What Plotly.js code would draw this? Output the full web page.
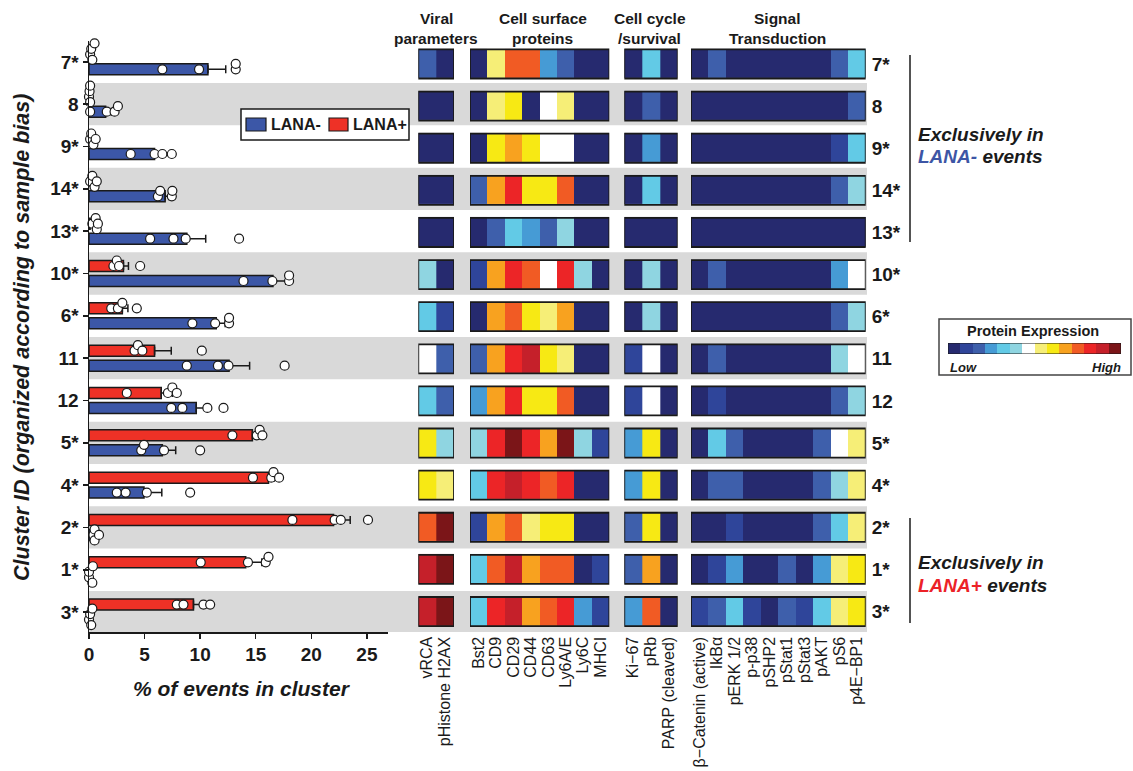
<!DOCTYPE html>
<html>
<head>
<meta charset="utf-8">
<script src="https://cdn.plot.ly/plotly-3.0.1.min.js"></script>
<style>
  html, body { margin: 0; padding: 0; background: #fff; }
  #chart { width: 1133px; height: 771px; }
</style>
</head>
<body>
<div id="chart"></div>
<script>
// ---- Clusters (top to bottom) ----
const clusters = ['7*', '8', '9*', '14*', '13*', '10*', '6*', '11', '12', '5*', '4*', '2*', '1*', '3*'];
const groups = ['LANA-', 'LANA+'];

// ---- % of events in cluster: means, SEM and replicate values ----
const lanaNegMean = [10.7, 1.5, 5.9, 6.85, 8.8, 16.55, 11.45, 12.6, 9.65, 6.6, 4.95, 0.2, 0, 0];
const lanaNegErr  = [1.6, 0.5, 0.8, 0.35, 1.7, 1.15, 0.8, 1.85, 1.15, 1.2, 1.6, 0, 0, 0];
const lanaPosMean = [0, 0, 0, 0, 0.1, 3.1, 3.0, 5.9, 6.5, 14.7, 16.15, 22.0, 14.1, 9.4];
const lanaPosErr  = [0, 0, 0, 0, 0, 0.45, 0.5, 1.5, 1.0, 0.6, 0.5, 1.5, 1.45, 0.7];

const lanaNegPts = [
  [6.6, 9.9, 13.2, 13.2],
  [0.1, 1.6, 2.3, 2.6],
  [3.75, 5.9, 6.6, 7.45],
  [6.2, 6.4, 7.45, 7.5],
  [5.5, 7.6, 8.7, 13.5],
  [13.9, 16.5, 18.0, 18.0],
  [9.3, 11.35, 12.6, 12.6],
  [8.8, 11.6, 12.55, 17.6],
  [7.4, 8.4, 10.65, 12.1],
  [4.7, 4.95, 6.75, 10.0],
  [2.5, 3.3, 5.2, 9.1],
  [0.4, 0.5, 0.5, 0.9],
  [0.0, 0.0, 0.3, 0.35],
  [0.0, 0.1, 0.2, 0.3]
];
const lanaPosPts = [
  [0.1, 0.2, 0.3, 0.5],
  [0.0, 0.05, 0.1, 0.1],
  [0.1, 0.2, 0.4, 0.6],
  [0.1, 0.3, 0.5, 0.7],
  [0.3, 0.6, 0.7, 0.8],
  [2.2, 2.5, 2.7, 4.6],
  [2.0, 2.6, 3.0, 4.3],
  [4.1, 4.4, 4.8, 10.15],
  [3.4, 7.1, 7.5, 7.9],
  [12.9, 15.1, 15.35, 15.6],
  [14.75, 16.4, 16.6, 17.1],
  [18.3, 22.1, 22.65, 25.1],
  [10.05, 14.3, 15.9, 16.15],
  [7.9, 8.5, 10.3, 10.9]
];

// ---- Protein expression levels (0 = low ... 13 = high) ----
const viralLabels = ['vRCA', 'pHistone H2AX'];
const viralLevels = [
  [2, 0], [0, 0], [0, 0], [0, 0], [0, 0], [5, 0], [4, 1],
  [6, 2], [4, 2], [8, 5], [8, 7], [10, 13], [12, 13], [12, 13]
];
const surfaceLabels = ['Bst2', 'CD9', 'CD29', 'CD44', 'CD63', 'Ly6A/E', 'Ly6C', 'MHCI'];
const surfaceLevels = [
  [0, 7, 10, 10, 3, 2, 0, 0],
  [0, 7, 8, 0, 6, 7, 0, 0],
  [0, 8, 9, 8, 6, 6, 0, 0],
  [2, 9, 11, 8, 8, 10, 0, 0],
  [0, 2, 4, 3, 2, 5, 0, 0],
  [1, 9, 11, 10, 6, 11, 5, 0],
  [0, 9, 10, 8, 7, 9, 0, 0],
  [2, 9, 11, 12, 8, 7, 0, 0],
  [3, 9, 11, 8, 8, 10, 0, 0],
  [5, 11, 13, 11, 9, 13, 5, 1],
  [4, 11, 12, 11, 10, 11, 0, 0],
  [1, 9, 10, 7, 8, 8, 0, 0],
  [4, 10, 12, 9, 10, 10, 0, 1],
  [4, 11, 12, 9, 10, 11, 3, 1]
];
const cycleLabels = ['Ki\u221267', 'pRb', 'PARP (cleaved)'];
const cycleLevels = [
  [0, 4, 0], [0, 2, 0], [0, 3, 0], [0, 4, 0], [0, 0, 0], [0, 5, 0], [0, 5, 0],
  [1, 6, 0], [1, 6, 0], [3, 8, 0], [3, 8, 0], [2, 8, 0], [2, 9, 0], [3, 10, 0]
];
const signalLabels = ['\u03b2\u2212Catenin (active)', 'IkB\u03b1', 'pERK 1/2', 'p-p38', 'pSHP2',
                      'pStat1', 'pStat3', 'pAKT', 'pS6', 'p4E\u2212BP1'];
const signalLevels = [
  [0, 2, 0, 0, 0, 0, 0, 0, 2, 4],
  [0, 0, 0, 0, 0, 0, 0, 0, 0, 2],
  [0, 0, 0, 0, 0, 0, 0, 0, 1, 4],
  [0, 0, 0, 0, 0, 0, 0, 0, 2, 5],
  [0, 0, 0, 0, 0, 0, 0, 0, 0, 0],
  [0, 2, 0, 0, 0, 0, 0, 0, 3, 6],
  [0, 0, 0, 0, 0, 0, 0, 0, 2, 5],
  [0, 2, 0, 0, 0, 0, 0, 0, 5, 6],
  [0, 1, 0, 0, 0, 0, 0, 0, 2, 5],
  [0, 4, 2, 0, 0, 0, 0, 2, 6, 7],
  [0, 2, 2, 0, 0, 0, 0, 2, 5, 7],
  [0, 0, 1, 0, 0, 0, 0, 2, 4, 7],
  [0, 1, 3, 0, 0, 2, 0, 3, 7, 8],
  [1, 2, 4, 1, 0, 2, 1, 4, 7, 8]
];
const levelScale = [0, 1, 2, 3, 4, 5, 6, 7, 8, 9, 10, 11, 12, 13];

// ---- Styling ----
const W = 1133, H = 771;
const FONT = 'Liberation Sans, Arial, Helvetica, sans-serif';
const INK = '#1a1a1a';
const BLUE = '#3c57a7';
const RED = '#ee3126';
const BAND = '#d9d9d9';
const levelColors = ['#262a6f', '#2f459a', '#3e5fab', '#469bd5', '#62cae6', '#8fd5e1', '#ffffff',
                     '#f6ee77', '#f7e914', '#f8a21f', '#f15b24', '#ec2527', '#c5202a', '#7b1518'];
const colorscale = [];
levelColors.forEach((c, k) => {
  colorscale.push([k / levelColors.length, c]);
  colorscale.push([(k + 1) / levelColors.length, c]);
});

const px = x => x / W;
const py = y => 1 - y / H;

// Bar chart frame (pixels)
const BAR_L = 89, BAR_R = 388, BAR_T = 40.7, BAR_B = 632;
const X_MAX = 26.9, Y_LO = -0.5, Y_HI = 13.47;
const SX = (BAR_R - BAR_L) / X_MAX;
const SY = (BAR_B - BAR_T) / (Y_HI - Y_LO);

// Heatmap frame (pixels)
const HM_T = 42.9, HM_B = 632.6;
const BOX_HALF = 0.345;
const panels = [
  { ax: 'x2', l: 418.3, r: 454.0, labels: viralLabels, z: viralLevels },
  { ax: 'x3', l: 470.0, r: 609.3, labels: surfaceLabels, z: surfaceLevels },
  { ax: 'x4', l: 624.3, r: 677.7, labels: cycleLabels, z: cycleLevels },
  { ax: 'x5', l: 691.0, r: 865.7, labels: signalLabels, z: signalLevels }
];

// Spread replicate dots vertically where they would overlap
function swarm(vals, center) {
  const placed = [];
  const steps = [0, -1, 1, -2, 2, -3, 3];
  return vals.map(v => {
    for (const s of steps) {
      const off = s * 0.13;
      const free = placed.every(p => Math.hypot((v - p.v) * SX, (off - p.off) * SY) >= 5.5);
      if (free) { placed.push({ v, off }); return center + off; }
    }
    return center;
  });
}

const rows = clusters.map((_, i) => i);
const NEG_C = 0.177, POS_C = -0.177, BAR_W = 0.26;
const errOrNaN = a => a.map(e => (e > 0 ? e : NaN));

const traces = [];
traces.push({
  type: 'bar', orientation: 'h', name: groups[0], showlegend: false,
  x: lanaNegMean, y: rows, offset: NEG_C - BAR_W / 2, width: BAR_W,
  marker: { color: BLUE, line: { color: INK, width: 1.5 } },
  error_x: { type: 'data', symmetric: false, array: errOrNaN(lanaNegErr),
             arrayminus: lanaNegErr.map(() => 0), color: INK, thickness: 1.5, width: 4 },
  xaxis: 'x', yaxis: 'y', hoverinfo: 'skip'
});
traces.push({
  type: 'bar', orientation: 'h', name: groups[1], showlegend: false,
  x: lanaPosMean, y: rows, offset: POS_C - BAR_W / 2, width: BAR_W,
  marker: { color: RED, line: { color: INK, width: 1.5 } },
  error_x: { type: 'data', symmetric: false, array: errOrNaN(lanaPosErr),
             arrayminus: lanaPosErr.map(() => 0), color: INK, thickness: 1.5, width: 4 },
  xaxis: 'x', yaxis: 'y', hoverinfo: 'skip'
});

function dotTrace(pts, c) {
  const xs = [], ys = [];
  pts.forEach((vals, i) => {
    const yy = swarm(vals, i + c);
    vals.forEach((v, k) => { xs.push(v); ys.push(yy[k]); });
  });
  return {
    type: 'scatter', mode: 'markers', x: xs, y: ys, showlegend: false, cliponaxis: false,
    marker: { size: 9, color: '#ffffff', line: { color: INK, width: 1.2 } },
    xaxis: 'x', yaxis: 'y', hoverinfo: 'skip'
  };
}
traces.push(dotTrace(lanaNegPts, NEG_C));
traces.push(dotTrace(lanaPosPts, POS_C));

panels.forEach(p => {
  traces.push({
    type: 'heatmap', z: p.z, x: p.labels.map((_, j) => j), y: rows,
    xaxis: p.ax, yaxis: 'y2', colorscale, zmin: -0.5, zmax: 13.5,
    showscale: false, ygap: 13, hoverinfo: 'skip'
  });
});

// Protein expression colour key
traces.push({
  type: 'heatmap', z: [levelScale], x: levelScale, y: [0],
  xaxis: 'x6', yaxis: 'y6', colorscale, zmin: -0.5, zmax: 13.5,
  showscale: false, hoverinfo: 'skip'
});

// ---- Shapes ----
const shapes = [];
rows.forEach(i => {
  if (i % 2 === 1) {
    shapes.push({ type: 'rect', layer: 'below', xref: 'paper', yref: 'y',
      x0: px(BAR_L), x1: px(867), y0: i - 0.5, y1: Math.min(i + 0.5, Y_HI),
      fillcolor: BAND, line: { width: 0 } });
  }
});
panels.forEach(p => {
  rows.forEach(i => {
    shapes.push({ type: 'rect', xref: p.ax, yref: 'y2',
      x0: -0.5, x1: p.labels.length - 0.5, y0: i - BOX_HALF, y1: i + BOX_HALF,
      line: { color: INK, width: 1.8 }, fillcolor: 'rgba(0,0,0,0)' });
  });
});
shapes.push({ type: 'line', xref: 'paper', yref: 'paper', x0: px(910), x1: px(910), y0: py(55), y1: py(242),
  line: { color: INK, width: 1.5 } });
shapes.push({ type: 'line', xref: 'paper', yref: 'paper', x0: px(910), x1: px(910), y0: py(518), y1: py(623),
  line: { color: INK, width: 1.5 } });
shapes.push({ type: 'rect', xref: 'paper', yref: 'paper', x0: px(939), x1: px(1131), y0: py(319), y1: py(375),
  line: { color: '#444', width: 1.5 }, fillcolor: 'rgba(0,0,0,0)' });
shapes.push({ type: 'rect', xref: 'x6', yref: 'y6', x0: -0.5, x1: 13.5, y0: -0.5, y1: 0.5,
  line: { color: INK, width: 1 }, fillcolor: 'rgba(0,0,0,0)' });

// Group key box with swatches
shapes.push({ type: 'rect', xref: 'paper', yref: 'paper', x0: px(241), x1: px(409), y0: py(109), y1: py(140),
  line: { color: INK, width: 1.5 }, fillcolor: '#ffffff' });
shapes.push({ type: 'rect', xref: 'paper', yref: 'paper', x0: px(246), x1: px(266), y0: py(118), y1: py(131),
  line: { color: INK, width: 1.2 }, fillcolor: BLUE });
shapes.push({ type: 'rect', xref: 'paper', yref: 'paper', x0: px(329), x1: px(348), y0: py(118), y1: py(131),
  line: { color: INK, width: 1.2 }, fillcolor: RED });

// ---- Annotations ----
const ann = (x, y, text, size, opts = {}) => Object.assign({
  xref: 'paper', yref: 'paper', x: px(x), y: py(y), text, showarrow: false,
  xanchor: 'center', yanchor: 'middle', font: { family: FONT, size, color: INK }
}, opts);

const annotations = [
  ann(269, 124.5, '<b>' + groups[0] + '</b>', 16, { xanchor: 'left' }),
  ann(351, 124.5, '<b>' + groups[1] + '</b>', 16, { xanchor: 'left' }),
  ann(436, 18, '<b>Viral</b>', 15.5),
  ann(436, 38, '<b>parameters</b>', 15.5),
  ann(542.5, 18, '<b>Cell surface</b>', 15.5),
  ann(542.5, 38, '<b>proteins</b>', 15.5),
  ann(649.5, 18, '<b>Cell cycle</b>', 15.5),
  ann(649.5, 38, '<b>/survival</b>', 15.5),
  ann(778, 18, '<b>Signal</b>', 15.5),
  ann(778, 38, '<b>Transduction</b>', 15.5),
  ann(22, 338, '<b><i>Cluster ID (organized according to sample bias)</i></b>', 21.5, { textangle: -90 }),
  ann(242, 688, '<b><i>% of events in cluster</i></b>', 21),
  ann(916, 134, '<b><i>Exclusively in</i></b>', 19, { xanchor: 'left' }),
  ann(916, 157, '<b><i><span style="color:#3d55a5">LANA-</span> events</i></b>', 19, { xanchor: 'left' }),
  ann(916, 562, '<b><i>Exclusively in</i></b>', 19, { xanchor: 'left' }),
  ann(916, 585, '<b><i><span style="color:#ec2227">LANA+</span> events</i></b>', 19, { xanchor: 'left' }),
  ann(1033, 331, '<b>Protein Expression</b>', 14.5),
  ann(948, 367, '<b><i>Low</i></b>', 13, { xanchor: 'left' }),
  ann(1123, 367, '<b><i>High</i></b>', 13, { xanchor: 'right' })
];

// ---- Axes ----
const hidden = { showgrid: false, zeroline: false, showline: false, showticklabels: false, ticks: '', fixedrange: true };
const layout = {
  width: W, height: H,
  margin: { l: 0, r: 0, t: 0, b: 0, pad: 0 },
  paper_bgcolor: '#ffffff', plot_bgcolor: 'rgba(0,0,0,0)',
  font: { family: FONT, color: INK },
  barmode: 'overlay',
  showlegend: false,
  xaxis: {
    domain: [px(BAR_L), px(BAR_R)], range: [0, X_MAX], anchor: 'y',
    showline: true, linecolor: INK, linewidth: 1.5, showgrid: false, zeroline: false,
    ticks: 'outside', ticklen: 5, tickwidth: 1.5, tickcolor: INK, tick0: 0, dtick: 5,
    tickfont: { family: FONT, size: 19, color: INK, weight: 'bold' }, fixedrange: true
  },
  yaxis: {
    domain: [py(BAR_B), py(BAR_T)], range: [Y_HI, Y_LO], anchor: 'x',
    showline: true, linecolor: INK, linewidth: 1.5, showgrid: false, zeroline: false,
    ticks: 'outside', ticklen: 5, tickwidth: 1.5, tickcolor: INK,
    tickvals: rows, ticktext: clusters,
    tickfont: { family: FONT, size: 19, color: INK, weight: 'bold' }, fixedrange: true
  },
  yaxis2: {
    domain: [py(HM_B), py(HM_T)], range: [13.5, -0.5], anchor: 'x5', side: 'right',
    showline: false, showgrid: false, zeroline: false, ticks: '',
    tickvals: rows, ticktext: clusters, ticklabelstandoff: 5,
    tickfont: { family: FONT, size: 19, color: INK, weight: 'bold' }, fixedrange: true
  },
  xaxis6: Object.assign({ domain: [px(948), px(1121)], range: [-0.5, 13.5], anchor: 'y6' }, hidden),
  yaxis6: Object.assign({ domain: [py(354), py(343)], range: [-0.5, 0.5], anchor: 'x6' }, hidden),
  shapes, annotations
};
panels.forEach((p, k) => {
  layout['xaxis' + (k + 2)] = {
    domain: [px(p.l), px(p.r)], range: [-0.5, p.labels.length - 0.5], anchor: 'y2',
    showline: false, showgrid: false, zeroline: false, ticks: '',
    tickvals: p.labels.map((_, j) => j), ticktext: p.labels, tickangle: -90,
    tickfont: { family: FONT, size: 16, color: INK }, fixedrange: true
  };
});

Plotly.newPlot('chart', traces, layout, { staticPlot: true, displayModeBar: false });
</script>
</body>
</html>
